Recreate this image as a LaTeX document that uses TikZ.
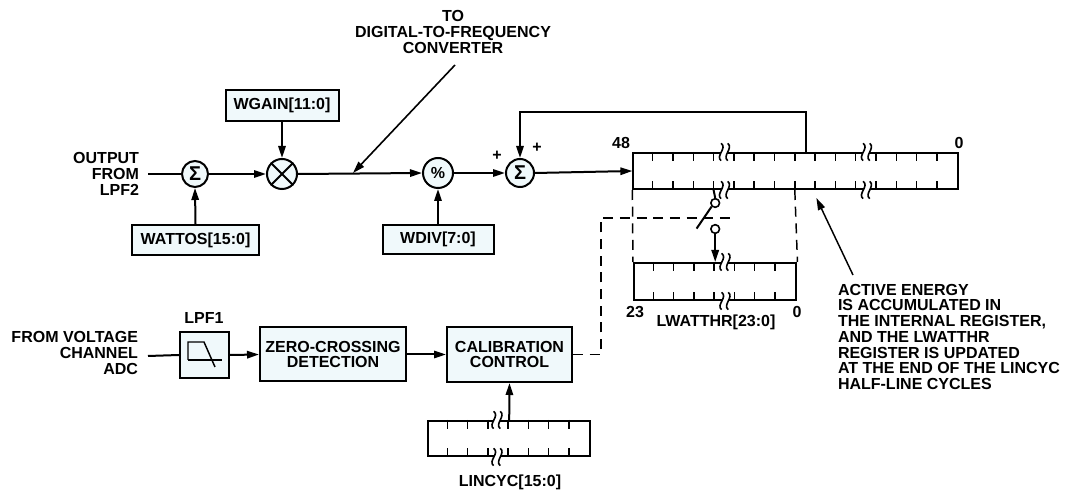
\documentclass[tikz,border=0pt]{standalone}
\usepackage{fontspec}
\setmainfont{Liberation Sans}
\usetikzlibrary{arrows.meta, positioning, calc}
\definecolor{boxfill}{RGB}{240,249,251}

% break mark on a register edge
\tikzset{brk/.pic={
  \fill[white] (-2.5pt,6.5pt) .. controls (2.5pt,3pt) and (-7pt,-3pt) .. (-2.5pt,-6.5pt)
     -- (2.5pt,-6.5pt) .. controls (-2pt,-3pt) and (7pt,3pt) .. (2.5pt,6.5pt) -- cycle;
  \draw[line width=1.2pt] (-2.5pt,6.5pt) .. controls (2.5pt,3pt) and (-7pt,-3pt) .. (-2.5pt,-6.5pt);
  \draw[line width=1.2pt] (2.5pt,6.5pt) .. controls (7pt,3pt) and (-2pt,-3pt) .. (2.5pt,-6.5pt);
}}

\begin{document}
\begin{tikzpicture}[
    x=0.75pt, y=-0.75pt,
    >={Triangle[length=9pt,width=5.5pt]},
    line width=1.5pt,
    font=\bfseries\fontsize{12}{11.8}\selectfont,
    box/.style    ={draw, fill=boxfill, align=center, inner sep=0pt},
    sumnode/.style={draw, circle, fill=boxfill, inner sep=0pt},
    reg/.style    ={draw, inner sep=0pt, minimum width=121.9pt},
    swnode/.style ={draw, circle, fill=white, inner sep=0pt, minimum size=6.5pt, line width=1.2pt},
    flow/.style   ={->},
    ctrl/.style   ={dash pattern=on 7.5pt off 5pt, line width=1.1pt},
    lbl/.style    ={inner sep=0pt, align=center}
]
\useasboundingbox (0,0) rectangle (1068,491);

% Top row: power path
\node[lbl, align=right, anchor=east] (lpf2lbl) at (140,174) {OUTPUT\\FROM\\LPF2};
\coordinate (lpf2in) at (148,174);
\node[sumnode, minimum size=19.5pt] (sum1) at (195,174) {\fontsize{15}{15}\selectfont Σ};
\node[box, minimum width=95.25pt, minimum height=22.5pt] (wattos) at (195.5,240) {WATTOS[15:0]};
\node[sumnode, minimum size=22.5pt] (mult) at (282,174) {};
\node[box, minimum width=84.75pt, minimum height=23.25pt] (wgain) at (282,105.5) {WGAIN[11:0]};
\node[sumnode, minimum size=22.5pt] (pct) at (438,173) {\%};
\node[box, minimum width=83.25pt, minimum height=21.75pt] (wdiv) at (438,239.5) {WDIV[7:0]};
\node[sumnode, minimum size=21pt] (sum2) at (520,173) {\fontsize{15}{15}\selectfont Σ};
\node[lbl] at (497,156) {+};
\node[lbl] at (537,148) {+};

% Output tap to the DFC
\node[lbl] (dfc) at (453,32) {TO\\DIGITAL-TO-FREQUENCY\\CONVERTER};
\coordinate (dfcfoot) at (455,65);
\coordinate (tap) at (353,173);

% Internal accumulator and LWATTHR register
\node[reg, minimum width=243.6pt, minimum height=27pt] (acc) at (795.8,171) {};
\node[lbl] at (621,143) {48};
\node[lbl] at (959,143) {0};
\node[reg, minimum height=27.75pt] (lwatt) at (715.2,281.5) {};
\node[lbl] at (635,312) {23};
\node[lbl] at (797,312) {0};
\node[lbl] at (716,322) {LWATTHR[23:0]};

% Switch between the registers
\node[swnode] (swa) at (715.2,203) {};
\node[swnode] (swb) at (715.2,229) {};

% Annotation
\node[lbl, align=left, anchor=north west] (note) at (837,283)
    {ACTIVE ENERGY\\IS ACCUMULATED IN\\THE INTERNAL REGISTER,\\AND THE LWATTHR\\REGISTER IS UPDATED\\AT THE END OF THE LINCYC\\HALF-LINE CYCLES};

% Bottom row: line cycle control
\node[lbl, align=right, anchor=east] (vinlbl) at (139,353) {FROM VOLTAGE\\CHANNEL\\ADC};
\coordinate (vin) at (148,356);
\node[box, minimum width=36.75pt, minimum height=34.5pt] (lpf) at (204.5,355) {};
\node[lbl] at (204,318) {LPF1};
\node[box, minimum width=109.5pt, minimum height=40.5pt] (zc) at (333,354.5) {ZERO-CROSSING\\DETECTION};
\node[box, minimum width=93.75pt, minimum height=41.25pt] (cal) at (509.5,354.5) {CALIBRATION\\CONTROL};
\node[reg, minimum height=26.25pt] (lincyc) at (509.2,438.5) {};
\node[lbl] at (510,482) {LINCYC[15:0]};

% --- Register cells ---
\foreach \k in {1,...,15} {
  \draw[line width=1.1pt] ($(acc.north west)+(\k*20.3,0)$) -- ++(0,9);
  \draw[line width=1.1pt] ($(acc.south west)+(\k*20.3,0)$) -- ++(0,-9);
}
\foreach \k in {1,...,7} {
  \draw[line width=1.1pt] ($(lwatt.north west)+(\k*20.3,0)$) -- ++(0,9);
  \draw[line width=1.1pt] ($(lwatt.south west)+(\k*20.3,0)$) -- ++(0,-9);
  \draw[line width=1.1pt] ($(lincyc.north west)+(\k*20.3,0)$) -- ++(0,9);
  \draw[line width=1.1pt] ($(lincyc.south west)+(\k*20.3,0)$) -- ++(0,-9);
}
\pic at ($(acc.north west)+(92,0)$) {brk};
\pic at ($(acc.south west)+(92,0)$) {brk};
\pic at ($(acc.north west)+(234,0)$) {brk};
\pic at ($(acc.south west)+(234,0)$) {brk};
\pic at ($(lwatt.north west)+(92,0)$) {brk};
\pic at ($(lwatt.south west)+(92,0)$) {brk};
\pic at ($(lincyc.north west)+(70,0)$) {brk};
\pic at ($(lincyc.south west)+(70,0)$) {brk};

% LPF symbol
\draw[line width=1.1pt] ($(lpf.center)+(-16.5,5)$) -- ++(0,-18) -- ++(16,0) -- ++(11,25);
\draw[line width=1.1pt] ($(lpf.center)+(-16.5,5)$) -- ++(34,0);

% Multiplier cross
\draw (mult.north east) -- (mult.south west) (mult.north west) -- (mult.south east);

% --- Arrows ---
\draw (lpf2in) -- (sum1.west);
\draw[flow] (wattos.north) -- (sum1.south);
\draw[flow] (sum1.east) -- (mult.west);
\draw[flow] (wgain.south) -- (mult.north);
\draw[flow] (mult.east) -- (pct.west);
\draw[flow, line width=1.2pt] (dfcfoot) -- (tap);
\draw[flow] (wdiv.north) -- (pct.south);
\draw[flow] (pct.east) -- (sum2.west);
\draw[flow] (sum2.east) -- (acc.west);

% Feedback: acc -> sum2
\draw[flow] ($(acc.north west)+(174,0)$) -- ++(0,-40) -| (sum2.north);

% Transfer to LWATTHR
\draw[ctrl] (acc.south west) -- (lwatt.north west);
\draw[ctrl] ($(acc.south west)+(162.4,0)$) -- (lwatt.north east);
\draw ($(acc.south west)+(81.2,0)$) -- (swa.north);
\draw (swa.south west) -- ++(-15,22);
\draw[flow] (swb.south) -- (swb.south |- lwatt.north);

% Bottom row
\draw (vin) -- (lpf.west);
\draw[flow] (lpf.east) -- (zc.west);
\draw[flow] (zc.east) -- (cal.west);
\draw[flow] (lincyc.north) -- (cal.south);
\coordinate (ctlend) at (735,218);
\draw[ctrl] (cal.east) -- ++(28,0) |- (ctlend);

% Annotation arrow
\draw[flow, line width=1.1pt] ($(note.north west)+(16,-8)$) -- ($(acc.south west)+(184,8)$);

\end{tikzpicture}
\end{document}
